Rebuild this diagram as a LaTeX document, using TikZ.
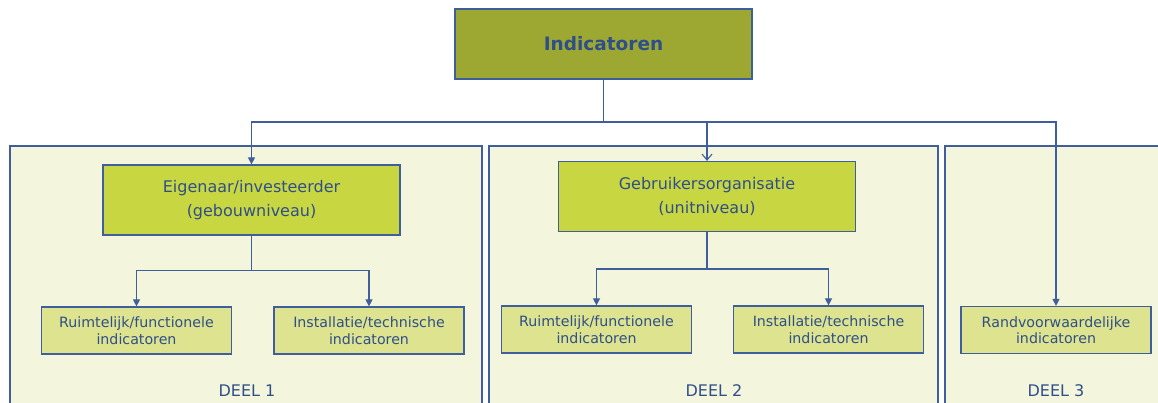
\documentclass[tikz,border=0pt]{standalone}
\usepackage{fontspec}
\setmainfont{DejaVu Sans}
\usetikzlibrary{arrows.meta}
\definecolor{lineblue}{HTML}{3F5F9C}
\definecolor{txtblue}{HTML}{2F4F8A}
\definecolor{olive}{HTML}{9CA832}
\definecolor{lime}{HTML}{C8D642}
\definecolor{pale}{HTML}{DDE38E}
\definecolor{panelbg}{HTML}{F3F6DC}
\tikzset{
  panelbox/.style={draw=lineblue, line width=1.1pt, fill=panelbg},
  topbox/.style={draw=lineblue, line width=1.2pt, fill=olive, minimum width=297pt, minimum height=70pt, inner sep=0pt, text=txtblue, font=\fontsize{18.5}{22}\selectfont\bfseries},
  midbox/.style={draw=lineblue, line width=1.2pt, fill=lime, minimum width=297pt, minimum height=70pt, inner sep=0pt, text=txtblue, align=center, font=\fontsize{16}{24}\selectfont},
  leafbox/.style={draw=lineblue, line width=1.2pt, fill=pale, minimum width=190pt, minimum height=47pt, inner sep=0pt, text=txtblue, align=center, font=\fontsize{14.2}{16.5}\selectfont},
  deel/.style={text=txtblue, font=\fontsize{16}{18}\selectfont},
  conn/.style={draw=lineblue, line width=1.1pt},
  arr/.style={conn, -{Triangle[length=7pt,width=7pt]}},
  openarr/.style={conn, -{Straight Barb[length=6pt,width=10pt,line width=1.1pt]}},
}
\begin{document}
\begin{tikzpicture}[x=1pt,y=-1pt]
\useasboundingbox (0,0) rectangle (1158,402);
% panels
\path[panelbox] (10,146) rectangle (482,406);
\path[panelbox] (489,146) rectangle (938,406);
\path[panelbox] (945,146) rectangle (1162,406);
% nodes
\node[topbox] (top) at (603.5,44) {Indicatoren};
\node[midbox] (eig) at (251.5,200) {Eigenaar/investeerder\\(gebouwniveau)};
\node[midbox] (geb) at (707,196.5) {Gebruikersorganisatie\\(unitniveau)};
\node[leafbox] (r1) at (136.5,330.5) {Ruimtelijk/functionele\\indicatoren};
\node[leafbox] (i1) at (369,330.5) {Installatie/technische\\indicatoren};
\node[leafbox] (r2) at (596.5,329.5) {Ruimtelijk/functionele\\indicatoren};
\node[leafbox] (i2) at (828.5,329.5) {Installatie/technische\\indicatoren};
\node[leafbox] (rv) at (1056,330) {Randvoorwaardelijke\\indicatoren};
\node[deel] (d1) at (247,391) {DEEL 1};
\node[deel] (d2) at (714,391) {DEEL 2};
\node[deel] (d3) at (1056,391) {DEEL 3};
\coordinate (hub) at (603.5,122);
\coordinate (hub1) at (251.5,270.5);
\coordinate (hub2) at (707,269);
% connectors
\draw[conn] (top.south) -- (hub);
\draw[arr] (hub) -| (eig.north);
\draw[openarr] (hub) -| (geb.north);
\draw[arr] (hub) -| (rv.north);
\draw[conn] (eig.south) -- (hub1);
\draw[arr] (hub1) -| (r1.north);
\draw[arr] (hub1) -| (i1.north);
\draw[conn] (geb.south) -- (hub2);
\draw[arr] (hub2) -| (r2.north);
\draw[arr] (hub2) -| (i2.north);
\end{tikzpicture}
\end{document}
